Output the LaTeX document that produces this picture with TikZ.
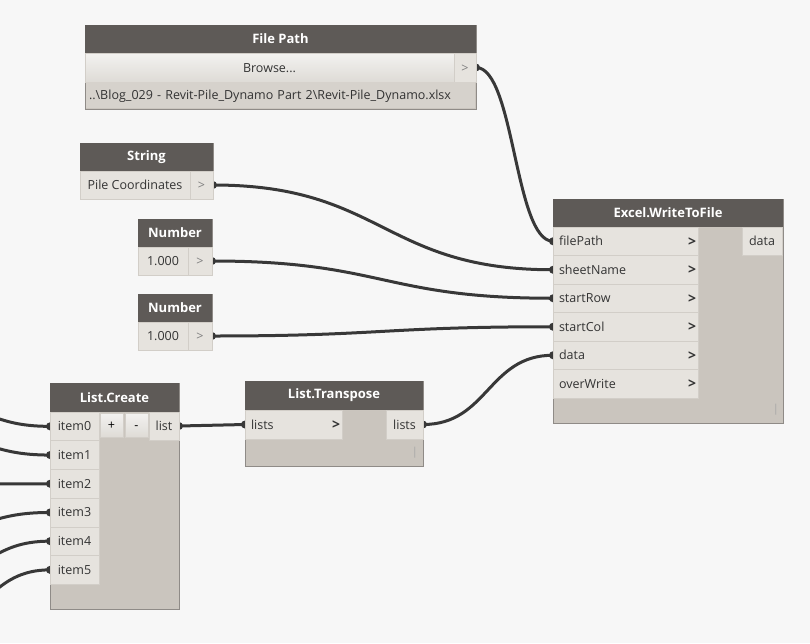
\documentclass[tikz,border=0pt]{standalone}
\usepackage{fontspec}
\setmainfont{Open Sans}
\usetikzlibrary{calc,backgrounds}
\definecolor{bgc}{HTML}{F7F7F7}
\definecolor{hdr}{HTML}{5E5A57}
\definecolor{bodyc}{HTML}{CAC5BE}
\definecolor{portc}{HTML}{E6E3DE}
\definecolor{portline}{HTML}{D2CEC8}
\definecolor{framec}{HTML}{8F8B87}
\definecolor{wirec}{HTML}{383838}
\definecolor{txt}{HTML}{333333}
\definecolor{pathrow}{HTML}{D6D2CC}
\definecolor{btntop}{HTML}{F3F2F0}
\definecolor{btnbot}{HTML}{DEDBD6}
\tikzset{
  every node/.style={font=\fontsize{12.5}{14}\selectfont, text=txt},
  nbody/.style={draw=framec, fill=bodyc, line width=0.8pt, anchor=north west, inner sep=0pt, outer sep=0pt},
  nhead/.style={fill=hdr, anchor=north west, inner sep=0pt, outer sep=0pt, text=white,
    font=\fontsize{13}{14}\selectfont\bfseries, minimum height=28pt},
  prow/.style={fill=portc, draw=portline, line width=0.5pt, anchor=north west, inner xsep=6pt,
    inner ysep=0pt, outer sep=0pt, minimum height=28pt, text height=10.5pt, text depth=1.5pt},
  lrow/.style={prow, align=left},
  obox/.style={prow, text=gray},
  btn/.style={prow, top color=btntop, bottom color=btnbot, draw=portline},
  prow2/.style={fill=pathrow, anchor=north west, inner xsep=3pt, inner ysep=0pt, outer sep=0pt,
    text height=10pt, text depth=2pt, align=left},
  chev/.style={font=\fontsize{14}{14}\selectfont\bfseries, text=txt, inner sep=0pt},
  barmark/.style={text=gray!70, inner sep=0pt, font=\fontsize{11}{12}\selectfont},
  wire/.style={draw=wirec, line width=3pt, to path={let \p1=(\tikztostart), \p2=(\tikztotarget) in
    .. controls ({0.5*\x1+0.5*\x2},\y1) and ({0.5*\x1+0.5*\x2},\y2) .. (\tikztotarget) \tikztonodes}},
  dot/.style={fill=wirec}
}
\begin{document}
\begin{tikzpicture}[x=1pt,y=-1pt]
\useasboundingbox (0,0) rectangle (810,643);
\begin{pgfonlayer}{background}
\fill[bgc] (0,0) rectangle (810,643);
\end{pgfonlayer}

% File Path
\node[nbody, minimum width=391pt, minimum height=84pt] (fp) at (85,25) {};
\node[nhead, minimum width=391pt] (fph) at (85,25) {File Path};
\node[btn, minimum width=369pt, minimum height=29pt] (fpb) at (85,53) {Browse...};
\node[obox, minimum width=22pt, minimum height=29pt, inner xsep=0pt] (fpo) at (454,53) {>};
\node[prow2, minimum width=389pt, minimum height=26pt, text width=383pt] (fpp) at (86,82)
  {..\textbackslash Blog\_029 - Revit-Pile\_Dynamo Part 2\textbackslash Revit-Pile\_Dynamo.xlsx};

% String
\node[nbody, minimum width=133pt, minimum height=56pt] (st) at (80,143) {};
\node[nhead, minimum width=133pt] (sth) at (80,143) {String};
\node[prow, minimum width=110pt, inner xsep=0pt] (stv) at (80,171) {Pile Coordinates};
\node[obox, minimum width=23pt, inner xsep=0pt] (sto) at (190,171) {>};

% Number 1
\node[nbody, minimum width=74pt, minimum height=56pt] (na) at (138,219) {};
\node[nhead, minimum width=74pt] (nah) at (138,219) {Number};
\node[prow, minimum width=50pt, inner xsep=0pt] (nav) at (138,247) {1.000};
\node[obox, minimum width=24pt, inner xsep=0pt] (nao) at (188,247) {>};

% Number 2
\node[nbody, minimum width=74pt, minimum height=56pt] (nb) at (138,294) {};
\node[nhead, minimum width=74pt] (nbh) at (138,294) {Number};
\node[prow, minimum width=50pt, inner xsep=0pt] (nbv) at (138,322) {1.000};
\node[obox, minimum width=24pt, inner xsep=0pt] (nbo) at (188,322) {>};

% Excel.WriteToFile
\node[nbody, minimum width=230pt, minimum height=224pt] (ew) at (553,199) {};
\node[nhead, minimum width=230pt] (ewh) at (553,199) {Excel.WriteToFile};
\node[lrow, minimum width=145pt, minimum height=28.5pt, text width=133pt] (ewfp) at (553,227) {filePath};
\node[lrow, minimum width=145pt, minimum height=28.5pt, text width=133pt] (ewsn) at (553,255.5) {sheetName};
\node[lrow, minimum width=145pt, minimum height=28.5pt, text width=133pt] (ewsr) at (553,284) {startRow};
\node[lrow, minimum width=145pt, minimum height=28.5pt, text width=133pt] (ewsc) at (553,312.5) {startCol};
\node[lrow, minimum width=145pt, minimum height=28.5pt, text width=133pt] (ewda) at (553,341) {data};
\node[lrow, minimum width=145pt, minimum height=28.5pt, text width=133pt] (ewow) at (553,369.5) {overWrite};
\node[chev] (c1) at (692,242) {>};
\node[chev] (c2) at (692,270.5) {>};
\node[chev] (c3) at (692,299) {>};
\node[chev] (c4) at (692,327.5) {>};
\node[chev] (c5) at (692,356) {>};
\node[chev] (c6) at (692,384.5) {>};
\node[prow, minimum width=40pt, inner xsep=0pt] (ewo) at (742,227) {data};
\node[barmark] (ewbar) at (776,410) {|};

% List.Create
\node[nbody, minimum width=129pt, minimum height=226pt] (lc) at (50,383) {};
\node[nhead, minimum width=129pt, minimum height=29pt] (lch) at (50,383) {List.Create};
\node[prow, minimum width=49pt, minimum height=28.7pt, inner xsep=0pt] (i0) at (50,412) {item0};
\node[prow, minimum width=49pt, minimum height=28.7pt, inner xsep=0pt] (i1) at (50,440.7) {item1};
\node[prow, minimum width=49pt, minimum height=28.7pt, inner xsep=0pt] (i2) at (50,469.4) {item2};
\node[prow, minimum width=49pt, minimum height=28.7pt, inner xsep=0pt] (i3) at (50,498.1) {item3};
\node[prow, minimum width=49pt, minimum height=28.7pt, inner xsep=0pt] (i4) at (50,526.8) {item4};
\node[prow, minimum width=49pt, minimum height=28.7pt, inner xsep=0pt] (i5) at (50,555.5) {item5};
\node[btn, minimum width=23pt, minimum height=24pt, inner xsep=0pt, text=black] (bplus) at (100,413) {+};
\node[btn, minimum width=23pt, minimum height=24pt, inner xsep=0pt, text=black] (bminus) at (125,413) {-};
\node[prow, minimum width=30pt, inner xsep=0pt] (lco) at (149,412) {list};

% List.Transpose
\node[nbody, minimum width=178pt, minimum height=85pt] (lt) at (245,381) {};
\node[nhead, minimum width=178pt, minimum height=29pt] (lth) at (245,381) {List.Transpose};
\node[lrow, minimum width=97pt, minimum height=29pt, text width=85pt] (lti) at (245,410) {lists};
\node[chev] (c7) at (336,425) {>};
\node[prow, minimum width=37pt, minimum height=29pt, inner xsep=0pt] (lto) at (386,410) {lists};
\node[barmark] (ltbar) at (415,453) {|};

% free ends of incoming wires
\coordinate (s0) at (-70,405);
\coordinate (s1) at (-70,437);
\coordinate (s2) at (-70,484);
\coordinate (s3) at (-70,530);
\coordinate (s4) at (-70,575);
\coordinate (s5) at (-70,620);

\begin{pgfonlayer}{background}
\draw[wire] (fpo.east) to (ewfp.west);
\draw[wire] (sto.east) to (ewsn.west);
\draw[wire] (nao.east) to (ewsr.west);
\draw[wire] (nbo.east) to (ewsc.west);
\draw[wire] (lto.east) to (ewda.west);
\draw[wire] (lco.east) to (lti.west);
\draw[wire] (s0) to (i0.west);
\draw[wire] (s1) to (i1.west);
\draw[wire] (s2) to (i2.west);
\draw[wire] (s3) to (i3.west);
\draw[wire] (s4) to (i4.west);
\draw[wire] (s5) to (i5.west);
\foreach \p in {fpo.east,sto.east,nao.east,nbo.east,lto.east,lco.east,
                ewfp.west,ewsn.west,ewsr.west,ewsc.west,ewda.west,lti.west,
                i0.west,i1.west,i2.west,i3.west,i4.west,i5.west}
  \fill[dot] (\p) circle (4pt);
\end{pgfonlayer}
\end{tikzpicture}
\end{document}
